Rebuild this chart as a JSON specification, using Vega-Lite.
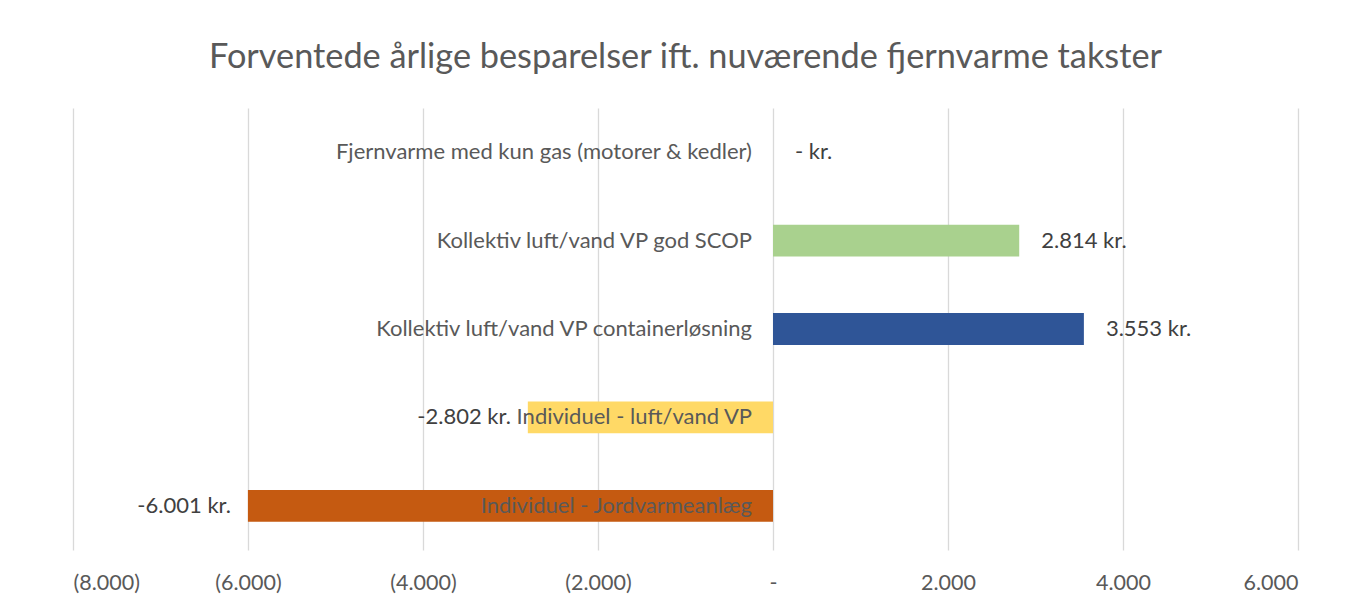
{
  "$schema": "https://vega.github.io/schema/vega-lite/v6.json",
  "width": 1225,
  "height": 442,
  "autosize": {"type": "none"},
  "padding": {"left": 73, "top": 108, "right": 49, "bottom": 51},
  "background": "white",
  "config": {
    "view": {"stroke": null},
    "font": "Lato",
    "locale": {"number": {"decimal": ",", "thousands": ".", "grouping": [3], "currency": ["", ""]}}
  },
  "title": {
    "text": "Forventede årlige besparelser ift. nuværende fjernvarme takster",
    "font": "Lato",
    "fontSize": 34.3,
    "fontWeight": "normal",
    "color": "#595959",
    "anchor": "middle",
    "frame": "group",
    "baseline": "middle",
    "offset": 16
  },
  "data": {
    "values": [
      {"category": "Fjernvarme med kun gas (motorer & kedler)", "value": 0, "label": "- kr."},
      {"category": "Kollektiv luft/vand VP god SCOP", "value": 2814, "label": "2.814 kr."},
      {"category": "Kollektiv luft/vand VP containerløsning", "value": 3553, "label": "3.553 kr."},
      {"category": "Individuel - luft/vand VP", "value": -2802, "label": "-2.802 kr."},
      {"category": "Individuel - Jordvarmeanlæg", "value": -6001, "label": "-6.001 kr."}
    ]
  },
  "encoding": {
    "y": {
      "field": "category",
      "type": "nominal",
      "sort": null,
      "scale": {"paddingInner": 0.64, "paddingOuter": 0.32},
      "axis": null
    }
  },
  "layer": [
    {
      "mark": {"type": "bar"},
      "encoding": {
        "x": {
          "field": "value",
          "type": "quantitative",
          "scale": {"domain": [-8000, 6000], "nice": false},
          "axis": {
            "title": null,
            "values": [-8000, -6000, -4000, -2000, 0, 2000, 4000, 6000],
            "labelExpr": "datum.value < 0 ? '(' + format(-datum.value, ',.0f') + ')' : (datum.value == 0 ? '-' : format(datum.value, ',.0f'))",
            "domain": false,
            "ticks": false,
            "grid": true,
            "gridColor": "#D9D9D9",
            "gridWidth": 1.3,
            "labelFont": "Lato",
            "labelFontSize": 21.5,
            "labelColor": "#595959",
            "labelPadding": 22
          }
        },
        "color": {
          "field": "category",
          "type": "nominal",
          "sort": null,
          "scale": {
            "domain": ["Fjernvarme med kun gas (motorer & kedler)", "Kollektiv luft/vand VP god SCOP", "Kollektiv luft/vand VP containerløsning", "Individuel - luft/vand VP", "Individuel - Jordvarmeanlæg"],
            "range": ["#4472C4", "#A9D18E", "#2F5597", "#FFD966", "#C55A11"]
          },
          "legend": null
        }
      }
    },
    {
      "mark": {"type": "text", "align": "right", "baseline": "middle", "dx": -21, "font": "Lato", "fontSize": 22, "color": "#595959"},
      "encoding": {
        "x": {"datum": 0, "type": "quantitative"},
        "text": {"field": "category"}
      }
    },
    {
      "transform": [{"filter": "datum.value >= 0"}],
      "mark": {"type": "text", "align": "left", "baseline": "middle", "dx": 22, "font": "Lato", "fontSize": 22, "color": "#404040"},
      "encoding": {
        "x": {"field": "value", "type": "quantitative"},
        "text": {"field": "label"}
      }
    },
    {
      "transform": [{"filter": "datum.value < 0"}],
      "mark": {"type": "text", "align": "right", "baseline": "middle", "dx": -17, "font": "Lato", "fontSize": 22, "color": "#404040"},
      "encoding": {
        "x": {"field": "value", "type": "quantitative"},
        "text": {"field": "label"}
      }
    }
  ]
}
